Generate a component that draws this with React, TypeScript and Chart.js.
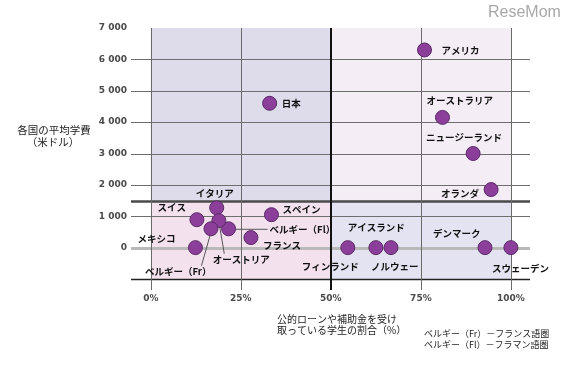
import { useEffect, useRef } from 'react';
import { Chart, registerables } from 'chart.js';

Chart.register(...registerables);

// ---- data ----
const countries = [
  'アメリカ', '日本', 'オーストラリア', 'ニュージーランド', 'オランダ',
  'イタリア', 'スイス', 'スペイン', 'ベルギー（Fl）', 'フランス',
  'メキシコ', 'オーストリア', 'ベルギー（Fr）', 'アイスランド', 'フィンランド',
  'ノルウェー', 'デンマーク', 'スウェーデン',
];
const shareWithSupport = [76, 33, 81, 89.5, 94.5, 18.3, 12.8, 33.5, 21.6, 27.8, 12.4, 18.9, 16.7, 62.5, 54.7, 66.7, 92.8, 100];
const avgTuition = [6300, 4600, 4150, 3000, 1850, 1270, 890, 1050, 600, 320, 0, 860, 600, 0, 0, 0, 0, 0];

const xTickValues = [0, 25, 50, 75, 100];
const yTickValues = [0, 1000, 2000, 3000, 4000, 5000, 6000, 7000];
const yGridValues = [-1000, 1000, 2000, 3000, 4000, 5000, 6000];
const xRange = [-5.5, 105.3];
const yRange = [-1000, 7000];
const xDivider = 50;
const yDivider = 1500;

const yTitle = ['各国の平均学費', '（米ドル）'];
const xTitle = ['公的ローンや補助金を受け', '取っている学生の割合（%）'];
const footnote = ['ベルギー（Fr）－フランス語圏', 'ベルギー（Fl）－フラマン語圏'];
const logoText = 'ReseMom';

// ---- label placement (styling, not data) ----
// [dx, dy, align, connector]
const labelPlacement: Record<string, [number, number, CanvasTextAlign, boolean?]> = {
  'アメリカ': [17, 0, 'left'],
  '日本': [12, 0, 'left'],
  'オーストラリア': [-16, -17, 'left'],
  'ニュージーランド': [-47, -16, 'left'],
  'オランダ': [-12, 4, 'right'],
  'イタリア': [-2, -14, 'center'],
  'スイス': [-11, -12, 'right'],
  'スペイン': [11, -5, 'left'],
  'ベルギー（Fl）': [41, 1, 'left', true],
  'フランス': [12, 8, 'left'],
  'メキシコ': [-20, -9, 'right'],
  'オーストリア': [-6, 39, 'left', true],
  'ベルギー（Fr）': [-66, 43, 'left', true],
  'アイスランド': [-28, -20, 'left'],
  'フィンランド': [-46, 19, 'left'],
  'ノルウェー': [-20, 19, 'left'],
  'デンマーク': [-52, -14, 'left'],
  'スウェーデン': [-19, 21, 'left'],
};

const JP = '"Noto Sans CJK JP", "Noto Sans", sans-serif';

const fmt = (v: number) => {
  const s = String(Math.abs(v));
  return s.length > 3 ? s.slice(0, s.length - 3) + ' ' + s.slice(-3) : s;
};

const quadrantPlugin = {
  id: 'quadrants',
  beforeDatasetsDraw(chart: any) {
    const { ctx, chartArea, scales } = chart;
    const xs = scales.x;
    const ys = scales.y;
    const px = (v: number) => xs.getPixelForValue(v);
    const py = (v: number) => ys.getPixelForValue(v);
    ctx.save();
    const rect = (x0: number, x1: number, y0: number, y1: number, c: string) => {
      ctx.fillStyle = c;
      ctx.fillRect(px(x0), py(y1), px(x1) - px(x0), py(y0) - py(y1));
    };
    rect(0, xDivider, yDivider, yRange[1], '#dedbeb');
    rect(xDivider, 100, yDivider, yRange[1], '#f4edf5');
    rect(0, xDivider, yRange[0], yDivider, '#f3e1ee');
    rect(xDivider, 100, yRange[0], yDivider, '#e3e3f1');

    // horizontal grid
    const hline = (v: number, color: string, w: number) => {
      ctx.strokeStyle = color;
      ctx.lineWidth = w;
      ctx.beginPath();
      const y = Math.round(py(v)) + (w % 2 ? 0.5 : 0);
      ctx.moveTo(chartArea.left, y);
      ctx.lineTo(chartArea.right, y);
      ctx.stroke();
    };
    yGridValues.forEach((v) => {
      if (v === yRange[0]) hline(v, '#222', 1.5);
      else hline(v, '#6e6e6e', 1);
    });
    hline(0, '#b9b9b9', 3);
    hline(yDivider, '#4a4a4a', 2.5);

    // vertical lines
    const vline = (v: number, color: string, w: number) => {
      ctx.strokeStyle = color;
      ctx.lineWidth = w;
      ctx.beginPath();
      const x = Math.round(px(v)) + (w % 2 ? 0.5 : 0);
      ctx.moveTo(x, chartArea.top);
      ctx.lineTo(x, chartArea.bottom + 11);
      ctx.stroke();
    };
    xTickValues.forEach((v) => {
      if (v !== xDivider) vline(v, '#6a6a6a', 1);
    });
    vline(xDivider, '#111', 2);
    ctx.restore();
  },
  afterDatasetsDraw(chart: any) {
    const { ctx } = chart;
    const meta = chart.getDatasetMeta(0);
    ctx.save();
    ctx.font = `bold 9.5px ${JP}`;
    ctx.fillStyle = '#111';
    ctx.textBaseline = 'middle';
    countries.forEach((name, i) => {
      const el = meta.data[i];
      const p = labelPlacement[name];
      if (!el || !p) return;
      const [dx, dy, align, conn] = p;
      const lx = el.x + dx;
      const ly = el.y + dy;
      ctx.textAlign = align;
      ctx.fillText(name, lx, ly);
      if (conn) {
        ctx.strokeStyle = '#555';
        ctx.lineWidth = 1;
        ctx.beginPath();
        if (Math.abs(dy) < 5) {
          ctx.moveTo(el.x + 7, el.y + 0.5);
          ctx.lineTo(lx - 2, el.y + 0.5);
        } else {
          const w = ctx.measureText(name).width;
          const tx = name === 'ベルギー（Fr）' ? lx + w * 0.85 : lx + w * 0.2;
          ctx.moveTo(tx, ly - 6);
          ctx.lineTo(el.x + (tx > el.x ? 1 : -1), el.y + 7);
        }
        ctx.stroke();
      }
    });
    ctx.restore();
  },
  afterDraw(chart: any) {
    const { ctx } = chart;
    ctx.save();
    ctx.fillStyle = '#222';
    ctx.textBaseline = 'middle';
    ctx.font = `10.5px ${JP}`;
    ctx.textAlign = 'center';
    ctx.fillText(yTitle[0], 54, 130);
    ctx.fillText(yTitle[1], 53, 142);
    ctx.font = `10px ${JP}`;
    ctx.textAlign = 'left';
    ctx.fillText(xTitle[0], 277, 319);
    ctx.fillText(xTitle[1], 277, 330);
    ctx.font = `9px ${JP}`;
    ctx.fillText(footnote[0], 424, 334);
    ctx.fillText(footnote[1], 424, 345);
    ctx.fillStyle = '#a8a8a8';
    ctx.font = `16px "Liberation Sans", sans-serif`;
    ctx.fillText(logoText, 488, 13);
    ctx.restore();
  },
};

export default function App() {
  const ref = useRef<HTMLCanvasElement>(null);
  useEffect(() => {
    if (!ref.current) return;
    const chart = new Chart(ref.current, {
      type: 'scatter',
      data: {
        datasets: [
          {
            data: countries.map((_, i) => ({ x: shareWithSupport[i], y: avgTuition[i] })),
            backgroundColor: '#8c3f9a',
            borderColor: '#5a2a66',
            borderWidth: 1,
            pointRadius: 7,
            pointHoverRadius: 7,
          },
        ],
      },
      options: {
        responsive: false,
        animation: false,
        events: [],
        layout: { padding: { top: 28, right: 46, left: 0, bottom: 0 } },
        plugins: { legend: { display: false }, tooltip: { enabled: false } },
        scales: {
          x: {
            type: 'linear',
            min: xRange[0],
            max: xRange[1],
            grid: { display: false, drawTicks: false },
            border: { display: false },
            afterBuildTicks: (s: any) => {
              s.ticks = xTickValues.map((v) => ({ value: v }));
            },
            afterFit: (s: any) => {
              s.height = 86;
            },
            ticks: {
              padding: 14,
              color: '#4a4a4a',
              font: { family: '"DejaVu Sans", sans-serif', size: 9, weight: 'bold' },
              callback: (v: any) => `${v}%`,
              maxRotation: 0,
            },
          },
          y: {
            type: 'linear',
            min: yRange[0],
            max: yRange[1],
            grid: { display: false, drawTicks: false },
            border: { display: false },
            afterBuildTicks: (s: any) => {
              s.ticks = yTickValues.map((v) => ({ value: v }));
            },
            afterFit: (s: any) => {
              s.width = 131;
            },
            ticks: {
              padding: 4,
              color: '#4a4a4a',
              font: { family: '"DejaVu Sans", sans-serif', size: 9, weight: 'bold' },
              callback: (v: any) => fmt(Number(v)),
            },
          },
        },
      },
      plugins: [quadrantPlugin],
    });
    return () => chart.destroy();
  }, []);
  return (
    <div style={{ position: 'fixed', left: 0, top: 0, width: 576, height: 365, background: '#fff' }}>
      <canvas ref={ref} width={576} height={365} style={{ display: 'block' }} />
    </div>
  );
}
